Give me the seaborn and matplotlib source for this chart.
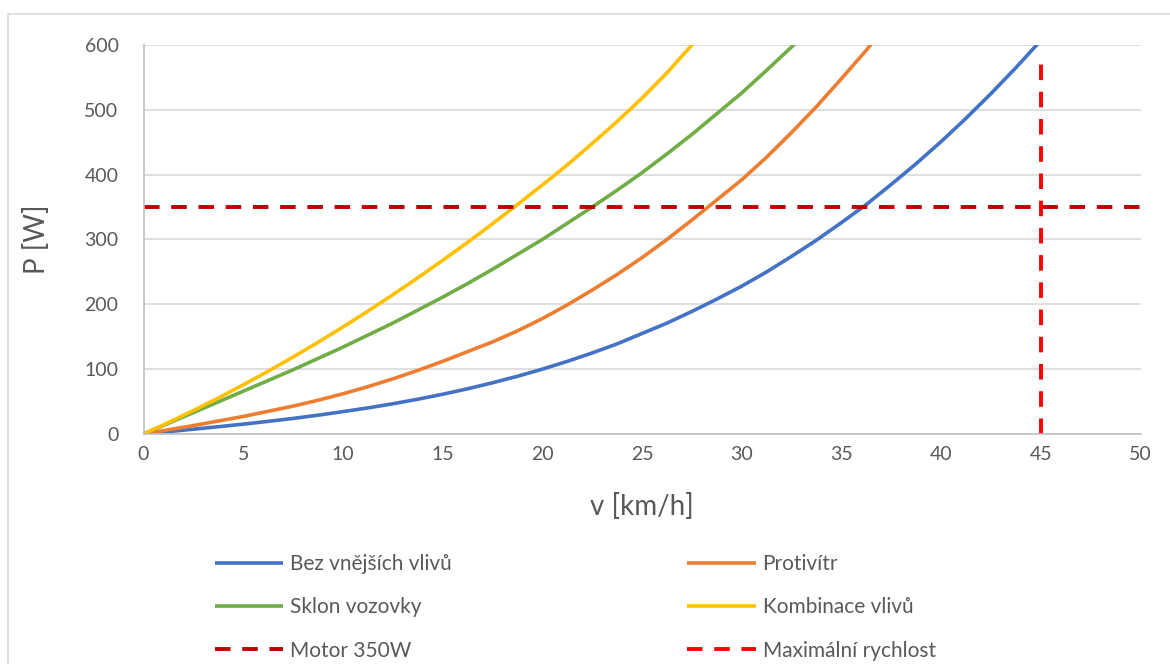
import matplotlib
matplotlib.use("Agg")
import matplotlib.pyplot as plt
import seaborn as sns
import pandas as pd
from matplotlib.patches import Rectangle

# ---- data (v in km/h, P in W) ----
speed = [0, 1.25, 2.5, 3.75, 5, 6.25, 7.5, 8.75, 10, 11.25, 12.5, 13.75, 15, 16.25,
         17.5, 18.75, 20, 21.25, 22.5, 23.75, 25, 26.25, 27.5, 28.75, 30, 31.25,
         32.5, 33.75, 35, 36.25, 37.5, 38.75, 40, 41.25, 42.5, 43.75, 45]
p_bez = [0, 3.65, 7.4, 11.2, 15.2, 19.5, 24, 29, 34.5, 40.2, 46.6, 53.6, 61.3, 69.7, 79,
         89, 100, 112, 125, 139, 155, 171, 189, 208, 228, 250, 274, 299, 326, 354, 385,
         417, 451, 487, 525, 565, 607]
p_protivitr = [0, 6.5, 13, 20, 27, 35, 43, 52, 62, 73, 85, 98, 112, 127, 142, 159,
               178, 199, 222, 246, 272, 300, 330, 361, 392, 427, 465, 505, 548, 592, 640]
p_sklon = [0, 16.5, 33, 49.5, 66, 82.5, 99, 116.5, 134, 152.5, 171, 191, 211, 232, 254,
           277, 300, 325, 350, 376, 403, 432, 462, 494, 526, 561, 597, 635, 675]
p_kombinace = [0, 17.7, 36.2, 55.5, 75.8, 96.8, 118.7, 141.4, 165, 189.4, 214.7, 240.8,
               267.8, 295.5, 324.2, 353.7, 384, 415, 448, 482, 518, 557, 600, 646]
motor_v = [0, 50]
motor_p = [350, 350]
vmax_v = [45, 45]
vmax_p = [0, 588]

labels = ["Bez vnějších vlivů", "Protivítr", "Sklon vozovky", "Kombinace vlivů",
          "Motor 350W", "Maximální rychlost"]
colors = ["#4472C4", "#ED7D31", "#70AD47", "#FFC000", "#C00000", "#FF0000"]
x_ticks = [0, 5, 10, 15, 20, 25, 30, 35, 40, 45, 50]
y_ticks = [0, 100, 200, 300, 400, 500, 600]

sns.set_theme(style="white")
plt.rcParams["font.family"] = ["Lato", "DejaVu Sans"]
txt = "#595959"

fig = plt.figure(figsize=(11.7, 6.64), dpi=100)
ax = fig.add_axes([143.5 / 1170, 1 - 434 / 664, 997 / 1170, 389 / 664])

series = [p_bez, p_protivitr, p_sklon, p_kombinace]
for vals, lab, col in zip(series, labels[:4], colors[:4]):
    df = pd.DataFrame({"v": speed[:len(vals)], "P": vals})
    sns.lineplot(data=df, x="v", y="P", ax=ax, color=col, linewidth=2.6, label=lab,
                 sort=False, estimator=None)

sns.lineplot(x=motor_v, y=motor_p, ax=ax, color=colors[4], linewidth=2.8,
             label=labels[4], sort=False, estimator=None)
sns.lineplot(x=vmax_v, y=vmax_p, ax=ax, color=colors[5], linewidth=2.8,
             label=labels[5], sort=False, estimator=None)
lines = ax.get_lines()
lines[4].set_dashes((4, 3))
lines[5].set_dashes((4, 3))
for ln in lines:
    ln.set_solid_capstyle("butt")
    ln.set_dash_capstyle("butt")
    ln.set_solid_joinstyle("round")

ax.set_xlim(0, 50)
ax.set_ylim(0, 600)
ax.set_xticks(x_ticks)
ax.set_yticks(y_ticks)
ax.tick_params(axis="both", length=0, labelsize=14, labelcolor=txt)
ax.tick_params(axis="y", pad=18)
ax.tick_params(axis="x", pad=9)
ax.yaxis.grid(True, color="#D9D9D9", linewidth=1.2)
ax.xaxis.grid(False)
for s in ["top", "right"]:
    ax.spines[s].set_visible(False)
for s in ["left", "bottom"]:
    ax.spines[s].set_color("#BFBFBF")
    ax.spines[s].set_linewidth(1.2)

ax.set_xlabel("v [km/h]", fontsize=20, color=txt)
ax.set_ylabel("P [W]", fontsize=20, color=txt)
ax.xaxis.set_label_coords(0.5, (434 - 493) / 389)
ax.yaxis.set_label_coords((50 - 143.5) / 997, 0.5)

handles, labs = ax.get_legend_handles_labels()
order = [0, 2, 4, 1, 3, 5]
leg = ax.legend([handles[i] for i in order], [labs[i] for i in order], ncol=2,
                loc="upper left", bbox_to_anchor=(215 / 1170, 1 - 554 / 664),
                bbox_transform=fig.transFigure, frameon=False, fontsize=15,
                handlelength=3.27, handletextpad=0.34, columnspacing=11.3,
                labelspacing=1.12, borderpad=0, borderaxespad=0)
for t in leg.get_texts():
    t.set_color(txt)

fig.patches.append(Rectangle((8 / 1170, -0.05), 1.1, 1 - 14 / 664 + 0.05,
                             transform=fig.transFigure, fill=False,
                             edgecolor="#D9D9D9", linewidth=1.2, clip_on=False))

fig.savefig("out.png", dpi=100)
